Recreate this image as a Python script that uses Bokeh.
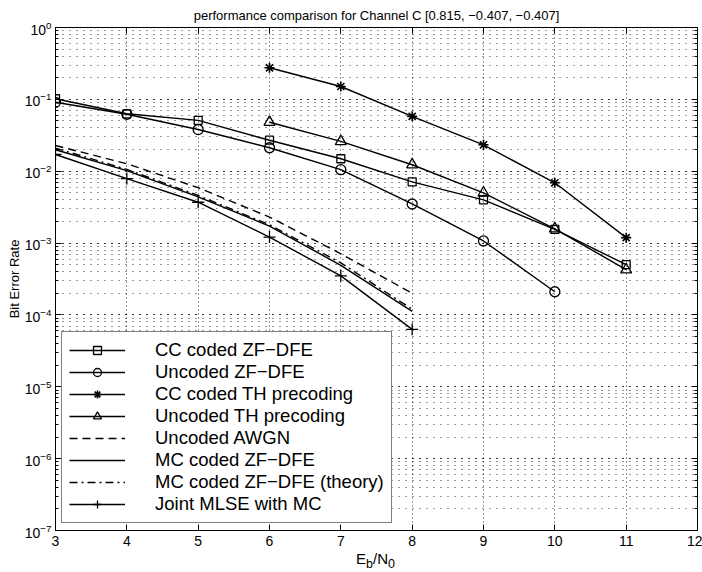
from bokeh.plotting import figure
from bokeh.layouts import column
from bokeh.models import (Legend, LegendItem, LogAxis, LinearAxis, LogTicker,
                          FixedTicker, Div, CustomJSTickFormatter)
from bokeh.embed import file_html
from bokeh.resources import INLINE

FONT = "Liberation Sans"

# ---- data ----
ebn0_cc_zfdfe = [3, 4, 5, 6, 7, 8, 9, 10, 11]
ber_cc_zfdfe = [0.102, 0.063, 0.051, 0.027, 0.0149, 0.0071, 0.0040, 0.00155, 0.00050]

ebn0_unc_zfdfe = [3, 4, 5, 6, 7, 8, 9, 10]
ber_unc_zfdfe = [0.091, 0.062, 0.038, 0.0212, 0.0105, 0.0035, 0.00107, 0.00021]

ebn0_th = [6, 7, 8, 9, 10, 11]
ber_cc_th = [0.275, 0.151, 0.058, 0.0233, 0.0069, 0.00119]
ber_unc_th = [0.048, 0.026, 0.0123, 0.0050, 0.00158, 0.000427]

ebn0_low = [3, 4, 5, 6, 7, 8]
ber_awgn = [0.0228, 0.0127, 0.0059, 0.0023, 0.00071, 0.00020]
ber_mc = [0.0199, 0.0102, 0.0044, 0.00172, 0.00049, 0.000112]
ber_mc_theory = [0.0210, 0.0106, 0.0046, 0.00180, 0.00053, 0.000120]
ber_mlse = [0.0171, 0.0079, 0.0037, 0.00121, 0.00035, 0.000063]

x_ticks = [3, 4, 5, 6, 7, 8, 9, 10, 11, 12]

labels = ["CC coded ZF\u2212DFE", "Uncoded ZF\u2212DFE", "CC coded TH precoding",
          "Uncoded TH precoding", "Uncoded AWGN", "MC coded ZF\u2212DFE",
          "MC coded ZF\u2212DFE (theory)", "Joint MLSE with MC"]
title_text = "performance comparison for Channel C [0.815, \u22120.407, \u22120.407]"
x_label_html = "E<sub>b</sub>/N<sub>0</sub>"

# ---- figure ----
p = figure(width=702, height=550, x_range=(3, 12), y_range=(1e-7, 1),
           y_axis_type="log", output_backend="svg", toolbar_location=None,
           min_border_left=55, min_border_right=5, min_border_top=27,
           min_border_bottom=20)
p.background_fill_color = "white"
p.border_fill_color = "white"
p.outline_line_color = "black"
p.outline_line_width = 1

p.title.text = title_text
p.title.align = "center"
p.title.text_font = FONT
p.title.text_font_size = "13px"
p.title.text_font_style = "normal"
p.title.text_color = "black"
p.title.standoff = 10

ytick = LogTicker(desired_num_ticks=8, num_minor_ticks=10)
xtick = FixedTicker(ticks=x_ticks)
p.yaxis.ticker = ytick
p.xaxis.ticker = xtick

for ax in (p.xaxis[0], p.yaxis[0]):
    ax.axis_line_color = "black"
    ax.major_tick_in = 6
    ax.major_tick_out = 0
    ax.minor_tick_in = 3
    ax.minor_tick_out = 0
    ax.major_tick_line_color = "black"
    ax.minor_tick_line_color = "black"
    ax.major_label_text_font = FONT
    ax.major_label_text_font_size = "14px"
    ax.major_label_text_color = "black"
    ax.axis_label_text_font = FONT
    ax.axis_label_text_font_size = "13px"
    ax.axis_label_text_font_style = "normal"
    ax.axis_label_text_color = "black"
p.xaxis.minor_tick_line_color = None
p.xaxis.major_label_standoff = 5
p.yaxis.major_label_standoff = 4
p.yaxis.axis_label = "Bit Error Rate"
p.yaxis.axis_label_standoff = 0

blank = CustomJSTickFormatter(code="return ''")
ax_top = LinearAxis(ticker=xtick, formatter=blank, major_tick_in=6, major_tick_out=0,
                    minor_tick_line_color=None, major_label_standoff=0,
                    axis_line_color="black", major_tick_line_color="black")
ax_right = LogAxis(ticker=ytick, formatter=blank, major_tick_in=6, major_tick_out=0,
                   minor_tick_in=3, minor_tick_out=0, major_label_standoff=0,
                   axis_line_color="black", major_tick_line_color="black",
                   minor_tick_line_color="black")
p.add_layout(ax_top, "above")
p.add_layout(ax_right, "right")

p.xgrid.grid_line_color = "black"
p.xgrid.grid_line_dash = "1 3"
p.xgrid.grid_line_alpha = 0.8
p.ygrid.grid_line_color = "black"
p.ygrid.grid_line_dash = "1 6"
p.ygrid.grid_line_alpha = 0.8
p.ygrid.minor_grid_line_color = "black"
p.ygrid.minor_grid_line_dash = "1 6"
p.ygrid.minor_grid_line_alpha = 0.8

LW = 1.4
mk = dict(fill_color=None, line_color="black", line_width=1.3)

r1l = p.line(ebn0_cc_zfdfe, ber_cc_zfdfe, line_color="black", line_width=LW)
r1m = p.scatter(ebn0_cc_zfdfe, ber_cc_zfdfe, marker="square", size=8, **mk)
r2l = p.line(ebn0_unc_zfdfe, ber_unc_zfdfe, line_color="black", line_width=LW)
r2m = p.scatter(ebn0_unc_zfdfe, ber_unc_zfdfe, marker="circle", size=10, **mk)
r3l = p.line(ebn0_th, ber_cc_th, line_color="black", line_width=LW)
r3m = p.scatter(ebn0_th, ber_cc_th, marker="asterisk", size=10, line_color="black", line_width=1.6)
r4l = p.line(ebn0_th, ber_unc_th, line_color="black", line_width=LW)
r4m = p.scatter(ebn0_th, ber_unc_th, marker="triangle", size=11, **mk)
r5 = p.line(ebn0_low, ber_awgn, line_color="black", line_width=LW, line_dash="8 5")
r6 = p.line(ebn0_low, ber_mc, line_color="black", line_width=LW)
r7 = p.line(ebn0_low, ber_mc_theory, line_color="black", line_width=LW, line_dash="8 4 2 4")
r8l = p.line(ebn0_low, ber_mlse, line_color="black", line_width=LW)
r8m = p.scatter(ebn0_low, ber_mlse, marker="cross", size=12, line_color="black", line_width=1.3)

items = [
    LegendItem(label=labels[0], renderers=[r1l, r1m]),
    LegendItem(label=labels[1], renderers=[r2l, r2m]),
    LegendItem(label=labels[2], renderers=[r3l, r3m]),
    LegendItem(label=labels[3], renderers=[r4l, r4m]),
    LegendItem(label=labels[4], renderers=[r5]),
    LegendItem(label=labels[5], renderers=[r6]),
    LegendItem(label=labels[6], renderers=[r7]),
    LegendItem(label=labels[7], renderers=[r8l, r8m]),
]
legend = Legend(items=items, location=(6, 7), margin=0, padding=7, spacing=0,
                glyph_width=56, glyph_height=20, label_height=20, label_standoff=30,
                label_text_font=FONT, label_text_font_size="18.5px",
                label_text_color="black",
                border_line_color="black", border_line_width=1.6,
                background_fill_color="white", background_fill_alpha=1)
p.add_layout(legend)

xlabel = Div(text='<div style="font-family: \'Liberation Sans\'; font-size: 15px; '
                  'color: black; line-height: 17px; padding-left: 356px;">'
                  + x_label_html + '</div>',
             width=702, height=22, margin=0)

layout = column(p, xlabel, spacing=0)
open("out.html", "w").write(file_html(layout, INLINE))
